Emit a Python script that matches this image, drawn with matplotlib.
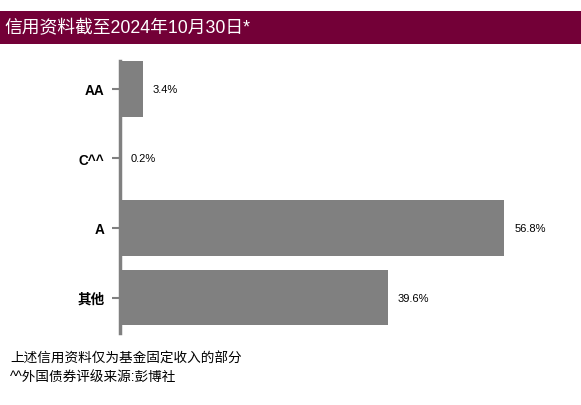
import matplotlib.pyplot as plt
from matplotlib.patches import Rectangle

plt.rcParams['font.family'] = ['Liberation Sans', 'Noto Sans CJK SC', 'DejaVu Sans']

# 数据
categories = ['AA', 'C^^', 'A', '其他']
values = [3.4, 0.2, 56.8, 39.6]
value_labels = ['3.4%', '0.2%', '56.8%', '39.6%']
title = '信用资料截至2024年10月30日*'
notes = ['上述信用资料仅为基金固定收入的部分', '^^外国债券评级来源:彭博社']

W, H = 581, 406
fig = plt.figure(figsize=(W / 100, H / 100), dpi=100)

# 标题栏
fig.patches.append(Rectangle((0, 1 - 45 / H), 1, 33 / H, transform=fig.transFigure,
                             facecolor='#730037', edgecolor='none'))
fig.text(4 / W, 1 - 29 / H, title, color='white', fontsize=12.8, va='center', ha='left')

# 坐标区
x0, x1 = 120, 560
y0, y1 = 62, 334
ax = fig.add_axes([x0 / W, 1 - y1 / H, (x1 - x0) / W, (y1 - y0) / H])
pos = list(range(len(categories)))
ax.barh(pos, values, height=0.8, color='#808080')
ax.set_xlim(0, 65)
ax.set_ylim(3.51, -0.4)
for p, v, lab in zip(pos, values, value_labels):
    ax.annotate(lab, (v, p), xytext=(7, 0), textcoords='offset points',
                va='center', ha='left', fontsize=8, color='black')

for s in ['top', 'right', 'bottom']:
    ax.spines[s].set_visible(False)
ax.spines['left'].set_color('#808080')
ax.spines['left'].set_linewidth(2.5)
ax.set_xticks([])
ax.set_yticks(pos)
ax.set_yticklabels(categories, fontsize=9.8, fontweight='bold')
ax.tick_params(axis='y', length=6, width=1.5, color='#808080', pad=5)

# 脚注
fig.text(10 / W, 1 - 359 / H, notes[0], fontsize=9.8, va='center', ha='left')
fig.text(10 / W, 1 - 378 / H, notes[1], fontsize=9.8, va='center', ha='left')

fig.savefig('out.png', dpi=100)
